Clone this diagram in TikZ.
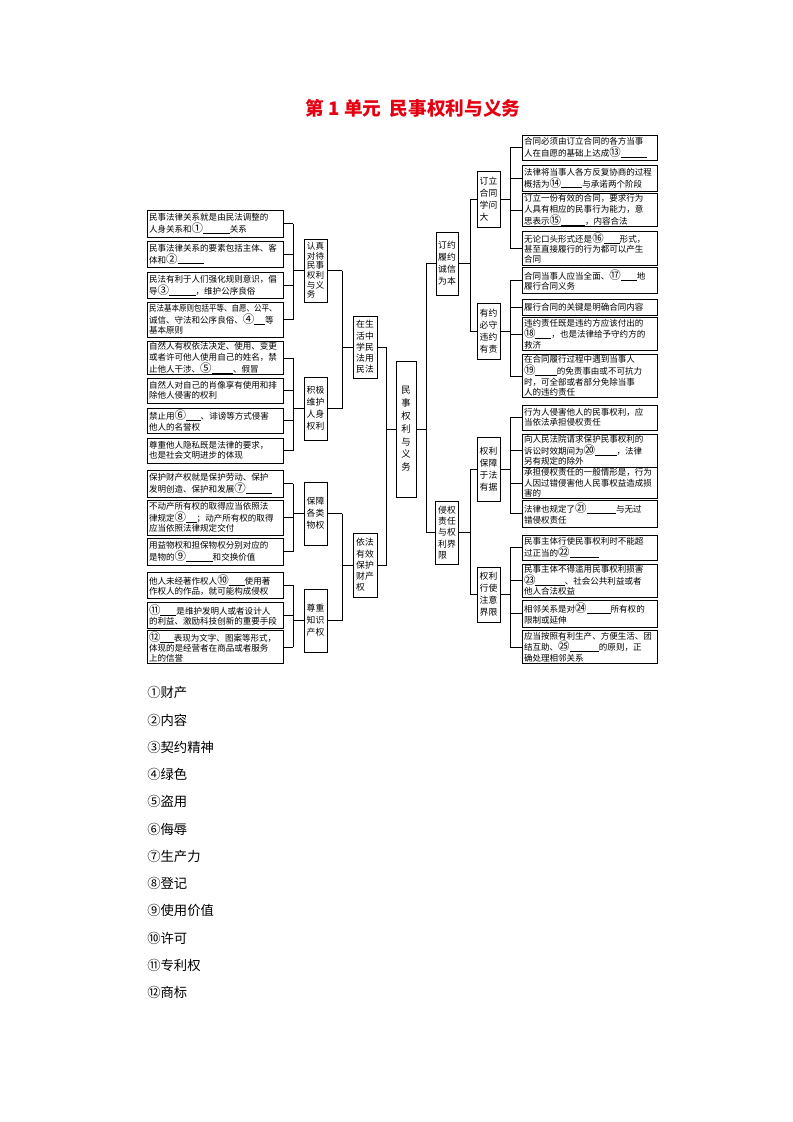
\documentclass[tikz,border=0pt]{standalone}
\usepackage{fontspec}
\setmainfont{Noto Sans CJK SC}
\usepackage{graphicx}
\definecolor{titlered}{RGB}{228,0,18}
\newcommand{\fb}[1]{\rule[-0.7pt]{#1pt}{0.35pt}}
\newcommand{\cnum}[1]{{\fontsize{8.6}{7.8}\selectfont #1}}
\tikzset{
  leafL/.style={draw, line width=0.7pt, text width=99pt, inner xsep=1.5pt, inner ysep=1pt, align=left, font=\fontsize{6.4}{7.8}\selectfont},
  leafR/.style={leafL, text width=98.25pt},
  lab/.style={draw, line width=0.5pt, inner sep=1pt, align=left, font=\fontsize{6.6}{9}\selectfont},
  conn/.style={line width=0.5pt},
  ans/.style={anchor=west, inner sep=0pt, font=\fontsize{10}{12}\selectfont},
}
\begin{document}
\begin{tikzpicture}[x=0.75pt, y=-0.75pt]
\fill[white] (0,0) rectangle (793,1122);
\useasboundingbox (0,0) rectangle (793,1122);

\node[font=\fontsize{14}{16}\selectfont\bfseries, text=titlered] (title) at (413,108) {第 1 单元\ \ 民事权利与义务};

% left leaves
\node[leafL, minimum height=20.25pt] (L1) at (215,223.5) {民事法律关系就是由民法调整的\\人身关系和\cnum{①}\fb{20}关系};
\node[leafL, minimum height=19.5pt] (L2) at (215,254) {民事法律关系的要素包括主体、客\\体和\cnum{②}\fb{20}};
\node[leafL, minimum height=19.5pt] (L3) at (215,285) {民法有利于人们强化规则意识，倡\\导\cnum{③}\fb{20}，维护公序良俗};
\node[leafL, minimum height=26.25pt] (L4) at (215,319.5) {\scalebox{0.88}[1]{民法基本原则包括平等、自愿、公平、}\\诚信、守法和公序良俗、\cnum{④}\fb{8}等\\基本原则};
\node[leafL, minimum height=24pt] (L5) at (215,358) {自然人有权依法决定、使用、变更\\或者许可他人使用自己的姓名，禁\\止他人干涉、\cnum{⑤}\fb{16}、假冒};
\node[leafL, minimum height=18.75pt] (L6) at (215,390.5) {自然人对自己的肖像享有使用和排\\除他人侵害的权利};
\node[leafL, minimum height=18.75pt] (L7) at (215,420.5) {禁止用\cnum{⑥}\fb{11}、诽谤等方式侵害\\他人的名誉权};
\node[leafL, minimum height=18.75pt] (L8) at (215,450.5) {尊重他人隐私既是法律的要求，\\也是社会文明进步的体现};
\node[leafL, minimum height=20.25pt] (L9) at (215,483.5) {保护财产权就是保护劳动、保护\\发明创造、保护和发展\cnum{⑦}\fb{20}};
\node[leafL, minimum height=26.25pt] (L10) at (215,517.5) {不动产所有权的取得应当依照法\\律规定\cnum{⑧}\fb{8}；动产所有权的取得\\应当依照法律规定交付};
\node[leafL, minimum height=20.25pt] (L11) at (215,551.5) {用益物权和担保物权分别对应的\\是物的\cnum{⑨}\fb{20}和交换价值};
\node[leafL, minimum height=19.5pt] (L12) at (215,585) {他人未经著作权人\cnum{⑩}\fb{12}使用著\\作权人的作品，就可能构成侵权};
\node[leafL, minimum height=19.5pt] (L13) at (215,615) {\cnum{⑪}\fb{12}是维护发明人或者设计人\\的利益、激励科技创新的重要手段};
\node[leafL, minimum height=22.5pt] (L14) at (215,647) {\cnum{⑫}\fb{10}表现为文字、图案等形式，\\体现的是经营者在商品或者服务\\上的信誉};

% left labels
\node[lab, font=\fontsize{6.4}{7.2}\selectfont, minimum width=17.25pt, minimum height=47.25pt] (G1) at (315.5,270.5) {认真\\对待\\民事\\权利\\与义\\务};
\node[lab, minimum width=17.25pt, minimum height=47.25pt] (G2) at (315.5,408.5) {积极\\维护\\人身\\权利};
\node[lab, minimum width=17.25pt, minimum height=47.25pt] (G3) at (315.5,513.5) {保障\\各类\\物权};
\node[lab, minimum width=17.25pt, minimum height=47.25pt] (G4) at (315.5,620.5) {尊重\\知识\\产权};
\node[lab, font=\fontsize{6.6}{8.4}\selectfont, minimum width=18pt, minimum height=46.5pt] (M1) at (365,347) {在生\\活中\\学民\\法用\\民法};
\node[lab, font=\fontsize{6.6}{8.4}\selectfont, minimum width=18pt, minimum height=48pt] (M2) at (365,565) {依法\\有效\\保护\\财产\\权};
\node[lab, align=center, font=\fontsize{7}{9.6}\selectfont, minimum width=15pt, minimum height=102pt] (C) at (406,429) {民\\事\\权\\利\\与\\义\\务};

% right labels
\node[lab, minimum width=16.5pt, minimum height=47.25pt] (N1) at (447,263.5) {订约\\履约\\诚信\\为本};
\node[lab, font=\fontsize{6.6}{8.4}\selectfont, minimum width=17.25pt, minimum height=47.25pt] (N2) at (447,532.5) {侵权\\责任\\与权\\利界\\限};
\node[lab, minimum width=17.25pt, minimum height=42pt] (K1) at (488.5,199) {订立\\合同\\学问\\大};
\node[lab, minimum width=17.25pt, minimum height=42pt] (K2) at (488.5,331) {有约\\必守\\违约\\有责};
\node[lab, minimum width=17.25pt, minimum height=48pt] (K3) at (488.5,469) {权利\\保障\\于法\\有据};
\node[lab, minimum width=17.25pt, minimum height=41.25pt] (K4) at (488.5,594.5) {权利\\行使\\注意\\界限};

% right leaves
\node[leafR, minimum height=18.75pt] (R1) at (589.5,147.5) {合同必须由订立合同的各方当事\\人在自愿的基础上达成\cnum{⑬}\fb{20}};
\node[leafR, minimum height=19.5pt] (R2) at (589.5,178) {法律将当事人各方反复协商的过程\\概括为\cnum{⑭}\fb{16}与承诺两个阶段};
\node[leafR, minimum height=22.5pt] (R3) at (589.5,210) {订立一份有效的合同，要求行为\\人具有相应的民事行为能力，意\\思表示\cnum{⑮}\fb{18}，内容合法};
\node[leafR, minimum height=25.5pt] (R4) at (589.5,248) {无论口头形式还是\cnum{⑯}\fb{12}形式，\\甚至直接履行的行为都可以产生\\合同};
\node[leafR, minimum height=19.5pt] (R5) at (589.5,280) {合同当事人应当全面、\cnum{⑰}\fb{12}地\\履行合同义务};
\node[leafR, minimum height=12pt] (R6) at (589.5,307) {履行合同的关键是明确合同内容};
\node[leafR, minimum height=24pt] (R7) at (589.5,334) {违约责任既是违约方应该付出的\\\cnum{⑱}\fb{12}，也是法律给予守约方的\\救济};
\node[leafR, minimum height=31.5pt] (R8) at (589.5,376) {在合同履行过程中遇到当事人\\\cnum{⑲}\fb{16}的免责事由或不可抗力\\时，可全部或者部分免除当事\\人的违约责任};
\node[leafR, minimum height=18.75pt] (R9) at (589.5,417.5) {行为人侵害他人的民事权利，应\\当依法承担侵权责任};
\node[leafR, minimum height=24.75pt] (R10) at (589.5,450.5) {向人民法院请求保护民事权利的\\诉讼时效期间为\cnum{⑳}\fb{16}，法律\\另有规定的除外};
\node[leafR, minimum height=21pt] (R11) at (589.5,483) {承担侵权责任的一般情形是，行为\\人因过错侵害他人民事权益造成损\\害的};
\node[leafR, minimum height=20.25pt] (R12) at (589.5,513.5) {法律也规定了\cnum{㉑}\fb{22}与无过\\错侵权责任};
\node[leafR, minimum height=18.75pt] (R13) at (589.5,547.5) {民事主体行使民事权利时不能超\\过正当的\cnum{㉒}\fb{22}};
\node[leafR, minimum height=24.75pt] (R14) at (589.5,580.5) {民事主体不得滥用民事权利损害\\\cnum{㉓}\fb{22}、社会公共利益或者\\他人合法权益};
\node[leafR, minimum height=20.25pt] (R15) at (589.5,613.5) {相邻关系是对\cnum{㉔}\fb{18}所有权的\\限制或延伸};
\node[leafR, minimum height=22.5pt] (R16) at (589.5,647) {应当按照有利生产、方便生活、团\\结互助、\cnum{㉕}\fb{22}的原则，正\\确处理相邻关系};

% bracket x positions
\coordinate (xa) at (293,0);
\coordinate (xb) at (342,0);
\coordinate (xc) at (386,0);
\coordinate (xd) at (426,0);
\coordinate (xe) at (470,0);
\coordinate (xf) at (510,0);

% leaves -> left labels
\foreach \n in {L1,L2,L3,L4,L5,L6,L7,L8,L9,L10,L11,L12,L13,L14}
  \draw[conn] (\n.east) -- (\n.east -| xa);
\draw[conn] (L1.east -| xa) -- (L4.east -| xa);
\draw[conn] (L5.east -| xa) -- (L8.east -| xa);
\draw[conn] (L9.east -| xa) -- (L11.east -| xa);
\draw[conn] (L12.east -| xa) -- (L14.east -| xa);
\foreach \n in {G1,G2,G3,G4}
  \draw[conn] (\n.west) -- (\n.west -| xa);

% G -> M
\foreach \n in {G1,G2,G3,G4}
  \draw[conn] (\n.east) -- (\n.east -| xb);
\draw[conn] (G1.east -| xb) -- (G2.east -| xb);
\draw[conn] (G3.east -| xb) -- (G4.east -| xb);
\draw[conn] (M1.west) -- (M1.west -| xb);
\draw[conn] (M2.west) -- (M2.west -| xb);

% M -> C
\draw[conn] (M1.east) -- (M1.east -| xc) -- (M2.east -| xc) -- (M2.east);
\draw[conn] (C.west) -- (C.west -| xc);

% C -> N
\draw[conn] (C.east) -- (C.east -| xd);
\draw[conn] (N1.west) -- (N1.west -| xd) -- (N2.west -| xd) -- (N2.west);

% N -> K
\draw[conn] (N1.east) -- (N1.east -| xe);
\draw[conn] (K1.west) -- (K1.west -| xe) -- (K2.west -| xe) -- (K2.west);
\draw[conn] (N2.east) -- (N2.east -| xe);
\draw[conn] (K3.west) -- (K3.west -| xe) -- (K4.west -| xe) -- (K4.west);

% K -> right leaves
\foreach \n in {R1,R2,R3,R4,R5,R6,R7,R8,R9,R10,R11,R12,R13,R14,R15,R16}
  \draw[conn] (\n.west) -- (\n.west -| xf);
\draw[conn] (R1.west -| xf) -- (R4.west -| xf);
\draw[conn] (R5.west -| xf) -- (R8.west -| xf);
\draw[conn] (R9.west -| xf) -- (R12.west -| xf);
\draw[conn] (R13.west -| xf) -- (R16.west -| xf);
\foreach \n in {K1,K2,K3,K4}
  \draw[conn] (\n.east) -- (\n.east -| xf);

% answers
\node[ans] (a1) at (147,692) {①财产};
\node[ans] (a2) at (147,720) {②内容};
\node[ans] (a3) at (147,747) {③契约精神};
\node[ans] (a4) at (147,774) {④绿色};
\node[ans] (a5) at (147,801) {⑤盗用};
\node[ans] (a6) at (147,829) {⑥侮辱};
\node[ans] (a7) at (147,856) {⑦生产力};
\node[ans] (a8) at (147,883) {⑧登记};
\node[ans] (a9) at (147,910) {⑨使用价值};
\node[ans] (a10) at (147,938) {⑩许可};
\node[ans] (a11) at (147,965) {⑪专利权};
\node[ans] (a12) at (147,992) {⑫商标};
\end{tikzpicture}
\end{document}
